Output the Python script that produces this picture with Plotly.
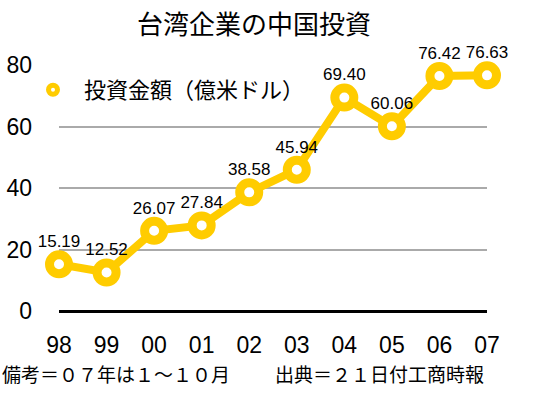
import plotly.graph_objects as go

years = ["98", "99", "00", "01", "02", "03", "04", "05", "06", "07"]
invest = [15.19, 12.52, 26.07, 27.84, 38.58, 45.94, 69.40, 60.06, 76.42, 76.63]
series_name = "投資金額（億米ドル）"
title = "台湾企業の中国投資"
note_left = "備考＝０７年は１～１０月"
note_right = "出典＝２１日付工商時報"

GOLD = "#FFCC00"
FONT = "Liberation Sans, Arial, Noto Sans CJK JP"
CJK = "Noto Sans CJK JP"

L, R, T, B = 59, 49, 65, 86
W, H = 536, 397
plot_w = W - L - R
plot_h = H - T - B


def px_x(x):
    return (x - L) / plot_w


def px_y(y):
    return (H - B - y) / plot_h


fig = go.Figure()
fig.add_trace(go.Scatter(
    x=years, y=invest, mode="lines+markers+text",
    line=dict(color=GOLD, width=8),
    marker=dict(size=19, color="white", line=dict(color=GOLD, width=9)),
    texttemplate="%{y:.2f}", textposition="top center",
    textfont=dict(size=17, color="black", family=FONT),
    cliponaxis=False, showlegend=False, hoverinfo="skip",
))
fig.add_trace(go.Scatter(
    x=[None], y=[None], mode="markers", name="\u2002" + series_name,
    marker=dict(size=9, color="white", line=dict(color=GOLD, width=5)),
))

fig.update_layout(
    width=W, height=H,
    margin=dict(l=L, r=R, t=T, b=B, autoexpand=False),
    paper_bgcolor="white", plot_bgcolor="white",
    font=dict(family=FONT, color="black"),
    title=dict(text=title, x=px_x(254), xref="paper", xanchor="center",
               y=1 - 25 / H, yanchor="middle", font=dict(size=26, family=CJK)),
    showlegend=True,
    legend=dict(x=px_x(33), y=px_y(90), xanchor="left", yanchor="middle",
                font=dict(size=22, family=CJK), bgcolor="rgba(0,0,0,0)"),
    xaxis=dict(type="category", range=[0, 9], showgrid=False, zeroline=False,
               showline=False, ticks="", tickfont=dict(size=23),
               ticklabelstandoff=18),
    yaxis=dict(range=[0, 80], tickvals=[0, 20, 40, 60, 80], showgrid=True,
               gridcolor="#AAAAAA", gridwidth=1.5, zeroline=True, zerolinecolor="black",
               zerolinewidth=2.5, showline=False, ticks="", tickfont=dict(size=23),
               ticklabelstandoff=26),
    annotations=[
        dict(text=note_left, x=px_x(0), y=px_y(373), xref="paper", yref="paper", showarrow=False,
             xanchor="left", yanchor="middle", font=dict(size=19, family=CJK)),
        dict(text=note_right, x=px_x(273), y=px_y(373), xref="paper", yref="paper", showarrow=False,
             xanchor="left", yanchor="middle", font=dict(size=19, family=CJK)),
    ],
)

fig.write_html("out.html", config={"displayModeBar": False},
               post_script="document.body.style.margin='0';")
